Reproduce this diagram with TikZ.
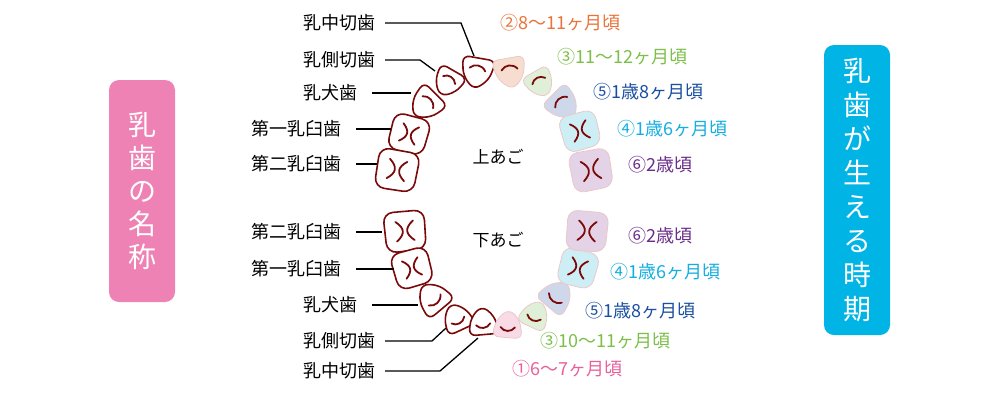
\documentclass[tikz,border=0pt]{standalone}
\usepackage{fontspec}
\setmainfont{Noto Sans CJK JP}
\begin{document}
\begin{tikzpicture}[x=1pt,y=-1pt,
  tw/.style={draw=tooth,line width=1.6pt,fill=white},
  tc/.style={draw=pinkline,line width=0.8pt},
  mk/.style={draw=tooth,line width=1.8pt,line cap=round},
  lab/.style={font=\fontsize{18}{20}\selectfont,anchor=east,inner sep=0},
  tim/.style={font=\fontsize{18}{20}\selectfont,anchor=west,inner sep=0},
  ln/.style={line width=1.3pt},
  inc/.pic={\path[pic actions,rounded corners=7pt] (-17,-14)--(17,-14)--(13,6)--(0,18)--(-13,6)--cycle;
            \draw[mk] (-8,-3) .. controls (-4,-8) and (4,-8) .. (8,-2);},
  linc/.pic={\path[pic actions,rounded corners=7pt] (-17,14)--(17,14)--(13,-6)--(0,-18)--(-13,-6)--cycle;
            \draw[mk] (-8,3) .. controls (-4,8) and (4,8) .. (8,2);},
  mol/.pic={\path[pic actions,rounded corners=10pt] (-21,-20)--(21,-20)--(20,20)--(-20,21)--cycle;
            \draw[mk] (-9,-10) .. controls (0,-3) and (0,3) .. (-9,10);
            \draw[mk] (9,-10) .. controls (0,-3) and (0,3) .. (9,10);}
]
\definecolor{tooth}{HTML}{7A0A0A}
\definecolor{pinkline}{HTML}{EBC8C8}
\useasboundingbox (0,0) rectangle (1000,400);
\node[fill={rgb,255:red,238;green,130;blue,180},rounded corners=10pt,minimum width=66pt,minimum height=222pt,text=white,font=\fontsize{28}{33}\selectfont,align=center] (bl) at (142,191) {乳\\歯\\の\\名\\称};
\node[fill={rgb,255:red,0;green,180;blue,230},rounded corners=10pt,minimum width=66pt,minimum height=290pt,text=white,font=\fontsize{28}{34}\selectfont,align=center] (br) at (857,190) {乳\\歯\\が\\生\\え\\る\\時\\期};
% upper left teeth
\pic[tw,scale=1.0] (u1) at (477,72) [rotate=-10] {inc};
\pic[tw,scale=0.9] (u2) at (448,82) [rotate=-30] {inc};
\pic[tw,scale=1.0] (u3) at (426,104) [rotate=-45] {inc};
\pic[tw,scale=0.9] (u4) at (409,134) [rotate=-15] {mol};
\pic[tw,scale=0.98] (u5) at (397,170) [rotate=-10] {mol};
% upper right
\pic[tc,fill={rgb,255:red,247;green,221;blue,208},scale=1.0] (v1) at (510,72) [rotate=10] {inc};
\pic[tc,fill={rgb,255:red,224;green,239;blue,216},scale=0.9] (v2) at (540,83) [rotate=30] {inc};
\pic[tc,fill={rgb,255:red,207;green,216;blue,234},scale=1.0] (v3) at (563,104) [rotate=45] {inc};
\pic[tc,fill={rgb,255:red,205;green,238;blue,245},scale=0.9] (v4) at (580,131) [rotate=15] {mol};
\pic[tc,fill={rgb,255:red,228;green,210;blue,230},scale=0.98] (v5) at (591,170) [rotate=10] {mol};
% lower left
\pic[tw,scale=0.98] (l5) at (405,231) [rotate=5] {mol};
\pic[tw,scale=0.9] (l4) at (412,268) [rotate=15] {mol};
\pic[tw,scale=1.0] (l3) at (433,298) [rotate=40] {linc};
\pic[tw,scale=0.9] (l2) at (457,318) [rotate=25] {linc};
\pic[tw,scale=0.9] (l1) at (483,322) [rotate=5] {linc};
% lower right
\pic[tc,fill={rgb,255:red,248;green,219;blue,230},scale=0.9] (w1) at (508,325) [rotate=-5] {linc};
\pic[tc,fill={rgb,255:red,224;green,239;blue,216},scale=0.9] (w2) at (535,315) [rotate=-25] {linc};
\pic[tc,fill={rgb,255:red,207;green,216;blue,234},scale=1.0] (w3) at (557,296) [rotate=-40] {linc};
\pic[tc,fill={rgb,255:red,205;green,238;blue,245},scale=0.9] (w4) at (578,268) [rotate=-15] {mol};
\pic[tc,fill={rgb,255:red,228;green,210;blue,230},scale=0.98] (w5) at (587,231) [rotate=-5] {mol};
\node[font=\fontsize{17}{18}\selectfont] (up) at (498,157) {上あご};
\node[font=\fontsize{17}{18}\selectfont] (dn) at (498,240) {下あご};
% left labels
\node[lab] (a1) at (376,23) {乳中切歯};
\node[lab] (a2) at (376,60) {乳側切歯};
\node[lab] (a3) at (358,93) {乳犬歯};
\node[lab] (a4) at (342,129) {第一乳臼歯};
\node[lab] (a5) at (342,164) {第二乳臼歯};
\node[lab] (b5) at (342,232) {第二乳臼歯};
\node[lab] (b4) at (342,269) {第一乳臼歯};
\node[lab] (b3) at (358,305) {乳犬歯};
\node[lab] (b2) at (376,341) {乳側切歯};
\node[lab] (b1) at (376,371) {乳中切歯};
\coordinate (c1) at (461,23); \coordinate (e1) at (474,56);
\coordinate (c2) at (420,60); \coordinate (e2) at (435,71);
\coordinate (e3) at (411,93); \coordinate (e4) at (391,129); \coordinate (e5) at (377,164);
\coordinate (f5) at (382,232); \coordinate (f4) at (394,269); \coordinate (f3) at (418,305);
\coordinate (d2) at (432,341); \coordinate (f2) at (446,328);
\coordinate (d1) at (440,371); \coordinate (f1) at (478,338);
\draw[ln] ([xshift=9pt]a1.east)--(c1)--(e1);
\draw[ln] ([xshift=9pt]a2.east)--(c2)--(e2);
\draw[ln] ([xshift=14pt]a3.east)--(e3);
\draw[ln] ([xshift=14pt]a4.east)--(e4);
\draw[ln] ([xshift=14pt]a5.east)--(e5);
\draw[ln] ([xshift=14pt]b5.east)--(f5);
\draw[ln] ([xshift=14pt]b4.east)--(f4);
\draw[ln] ([xshift=14pt]b3.east)--(f3);
\draw[ln] ([xshift=9pt]b2.east)--(d2)--(f2);
\draw[ln] ([xshift=9pt]b1.east)--(d1)--(f1);
% time labels
\node[tim,text={rgb,255:red,232;green,116;blue,59}] (t2) at (500,23) {②8〜11ヶ月頃};
\node[tim,text={rgb,255:red,123;green,191;blue,74}] (t3) at (557,57) {③11〜12ヶ月頃};
\node[tim,text={rgb,255:red,26;green,79;blue,160}] (t5) at (593,92) {⑤1歳8ヶ月頃};
\node[tim,text={rgb,255:red,20;green,174;blue,224}] (t4) at (617,129) {④1歳6ヶ月頃};
\node[tim,text={rgb,255:red,106;green,45;blue,138}] (t6) at (628,165) {⑥2歳頃};
\node[tim,text={rgb,255:red,106;green,45;blue,138}] (s6) at (628,236) {⑥2歳頃};
\node[tim,text={rgb,255:red,20;green,174;blue,224}] (s4) at (610,272) {④1歳6ヶ月頃};
\node[tim,text={rgb,255:red,26;green,79;blue,160}] (s5) at (585,311) {⑤1歳8ヶ月頃};
\node[tim,text={rgb,255:red,123;green,191;blue,74}] (s3) at (540,341) {③10〜11ヶ月頃};
\node[tim,text={rgb,255:red,232;green,96;blue,154}] (s1) at (512,369) {①6〜7ヶ月頃};
\end{tikzpicture}
\end{document}
